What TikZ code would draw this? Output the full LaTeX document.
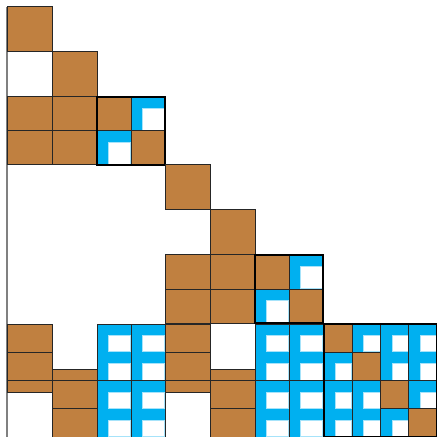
\documentclass[tikz,border=0pt]{standalone}
\definecolor{hbrown}{RGB}{192,128,64}
\definecolor{hblue}{RGB}{0,176,240}
\tikzset{
  dense/.style={fill=hbrown, draw=black!85, line width=0.5pt},
  lowrank/.style={fill=hblue},
  hole/.style={fill=white, draw=hblue!35, line width=0.4pt},
  cell line/.style={draw=black!85, line width=0.5pt},
  bold block/.style={draw=black, line width=1.1pt},
}
% blue low-rank cell: x0, y0, x1, y1
\newcommand{\lowrankcell}[4]{%
  \fill[lowrank] (#1,#2) rectangle (#3,#4);
  \filldraw[hole] ({#1+11.5},{#2+11.5}) rectangle ({#3-0.6},{#4-0.6});
}
\begin{document}
\begin{tikzpicture}[x=0.5pt, y=-0.5pt]
  \useasboundingbox (0,0) rectangle (436,437);
  % left edge of the matrix
  \draw[gray, line width=0.8pt] (7,7) -- (7,437);

  \foreach \s in {0,158} {
    % Diagonal part (two big cells, then a 2x2 block)
    \begin{scope}[shift={(\s,\s)}]
      \draw[dense] (7,7) rectangle (52,52);
      \draw[dense] (52,52) rectangle (97,97);
      \foreach \x in {7,52}
        \foreach \y in {97,131} \draw[dense] (\x,\y) rectangle ++(45,34);
      \draw[dense] (97,97) rectangle (131,131);
      \draw[dense] (131,131) rectangle (165,165);
      \lowrankcell{131}{97}{165}{131}
      \lowrankcell{97}{131}{131}{165}
      \draw[cell line] (131,97) -- (131,165) (97,131) -- (165,131);
      \draw[bold block] (97,97) rectangle (165,165);
    \end{scope}
    % Bottom band below it
    \begin{scope}[shift={(\s,0)}]
      \draw[dense] (7,324) rectangle (52,392);
      \draw[cell line] (7,352.25) -- (52,352.25) (7,380.5) -- (52,380.5);
      \draw[dense] (52,369) rectangle (97,437);
      \draw[cell line] (52,380.5) -- (97,380.5) (52,408.75) -- (97,408.75);
      \foreach \x in {97,131}
        \foreach \y in {324,352.25,380.5,408.75}
          \lowrankcell{\x}{\y}{\x+34}{\y+28.25}
      \foreach \x in {97,131}
        \foreach \y in {324,380.5} \draw[cell line] (\x,\y) rectangle ++(34,56.5);
    \end{scope}
  }

  % Bottom-right 4x4 block
  \foreach \i in {0,...,3}
    \foreach \j in {0,...,3} {
      \ifnum\i=\j\relax\else
        \lowrankcell{324+28.25*\i}{324+28.25*\j}{352.25+28.25*\i}{352.25+28.25*\j}
      \fi
    }
  \foreach \x in {352.25,380.5,408.75} \draw[cell line] (\x,324) -- (\x,437);
  \draw[cell line] (324,380.5) -- (437,380.5);
  \foreach \i in {0,...,3}
    \draw[dense] (324+28.25*\i,324+28.25*\i) rectangle ++(28.25,28.25);
  \draw[bold block] (324,324) rectangle (437,437);
\end{tikzpicture}
\end{document}
